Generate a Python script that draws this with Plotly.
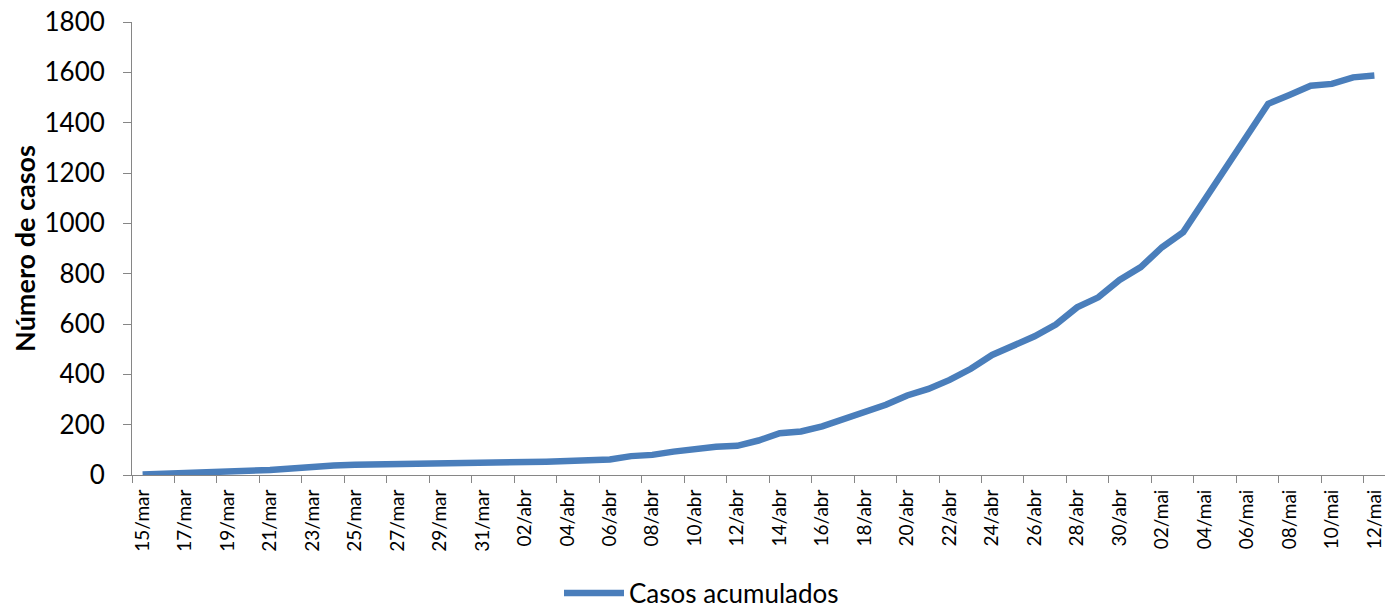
import plotly.graph_objects as go

# ---- data ----
dates = (
    [f"{d:02d}/mar" for d in range(15, 32)]
    + [f"{d:02d}/abr" for d in range(1, 31)]
    + [f"{d:02d}/mai" for d in range(1, 13)]
)
casos = [
    2, 4, 6, 8, 10, 12, 20, 26, 35, 38,
    41, 42, 43, 43, 43, 44, 46, 48, 51, 53,
    56, 59, 62, 75, 80, 93, 105, 112, 116, 137,
    166, 173, 193, 223, 247, 279, 316, 342, 378, 422,
    477, 514, 551, 598, 666, 706, 775, 826, 905, 965,
    1095, 1225, 1345, 1475, 1510, 1547, 1554, 1580, 1587,
]
series_name = "Casos acumulados"
y_title = "Número de casos"
y_ticks = [0, 200, 400, 600, 800, 1000, 1200, 1400, 1600, 1800]

FONT = "Lato, 'Open Sans', sans-serif"
AXIS_COLOR = "#868686"
LINE_COLOR = "#4A7EBB"

fig = go.Figure()
fig.add_trace(
    go.Scatter(
        x=dates,
        y=casos,
        mode="lines",
        name=series_name,
        line=dict(color=LINE_COLOR, width=6.5),
        showlegend=True,
    )
)

fig.update_layout(
    width=1387,
    height=600,
    margin=dict(l=124, r=10, t=14, b=133),
    paper_bgcolor="white",
    plot_bgcolor="white",
    font=dict(family=FONT, color="#000000"),
    showlegend=True,
    legend=dict(
        orientation="h",
        xref="container",
        yref="container",
        x=0.5,
        xanchor="center",
        y=0.025,
        yanchor="middle",
        font=dict(size=26, family=FONT),
        itemwidth=60,
        bgcolor="rgba(0,0,0,0)",
    ),
)

fig.update_xaxes(
    type="category",
    range=[-0.5, len(dates) - 0.5],
    tickmode="linear",
    tick0=0,
    dtick=2,
    tickson="boundaries",
    ticks="outside",
    ticklen=7,
    tickcolor=AXIS_COLOR,
    tickangle=-90,
    tickfont=dict(size=19, family=FONT),
    ticklabelstandoff=6,
    ticklabeloverflow="allow",
    showline=True,
    linecolor=AXIS_COLOR,
    linewidth=1,
    showgrid=False,
    zeroline=False,
    automargin=False,
)

fig.update_yaxes(
    range=[0, 1800],
    tickmode="array",
    tickvals=y_ticks,
    ticks="outside",
    ticklen=8,
    tickcolor=AXIS_COLOR,
    tickfont=dict(size=26, family=FONT),
    ticklabelstandoff=13,
    ticklabeloverflow="allow",
    showline=True,
    linecolor=AXIS_COLOR,
    linewidth=1,
    showgrid=False,
    zeroline=False,
    automargin=False,
    title=dict(
        text=f"<b>{y_title}</b>",
        font=dict(size=27, family=FONT),
        standoff=8,
    ),
)

fig.write_html("out.html")
